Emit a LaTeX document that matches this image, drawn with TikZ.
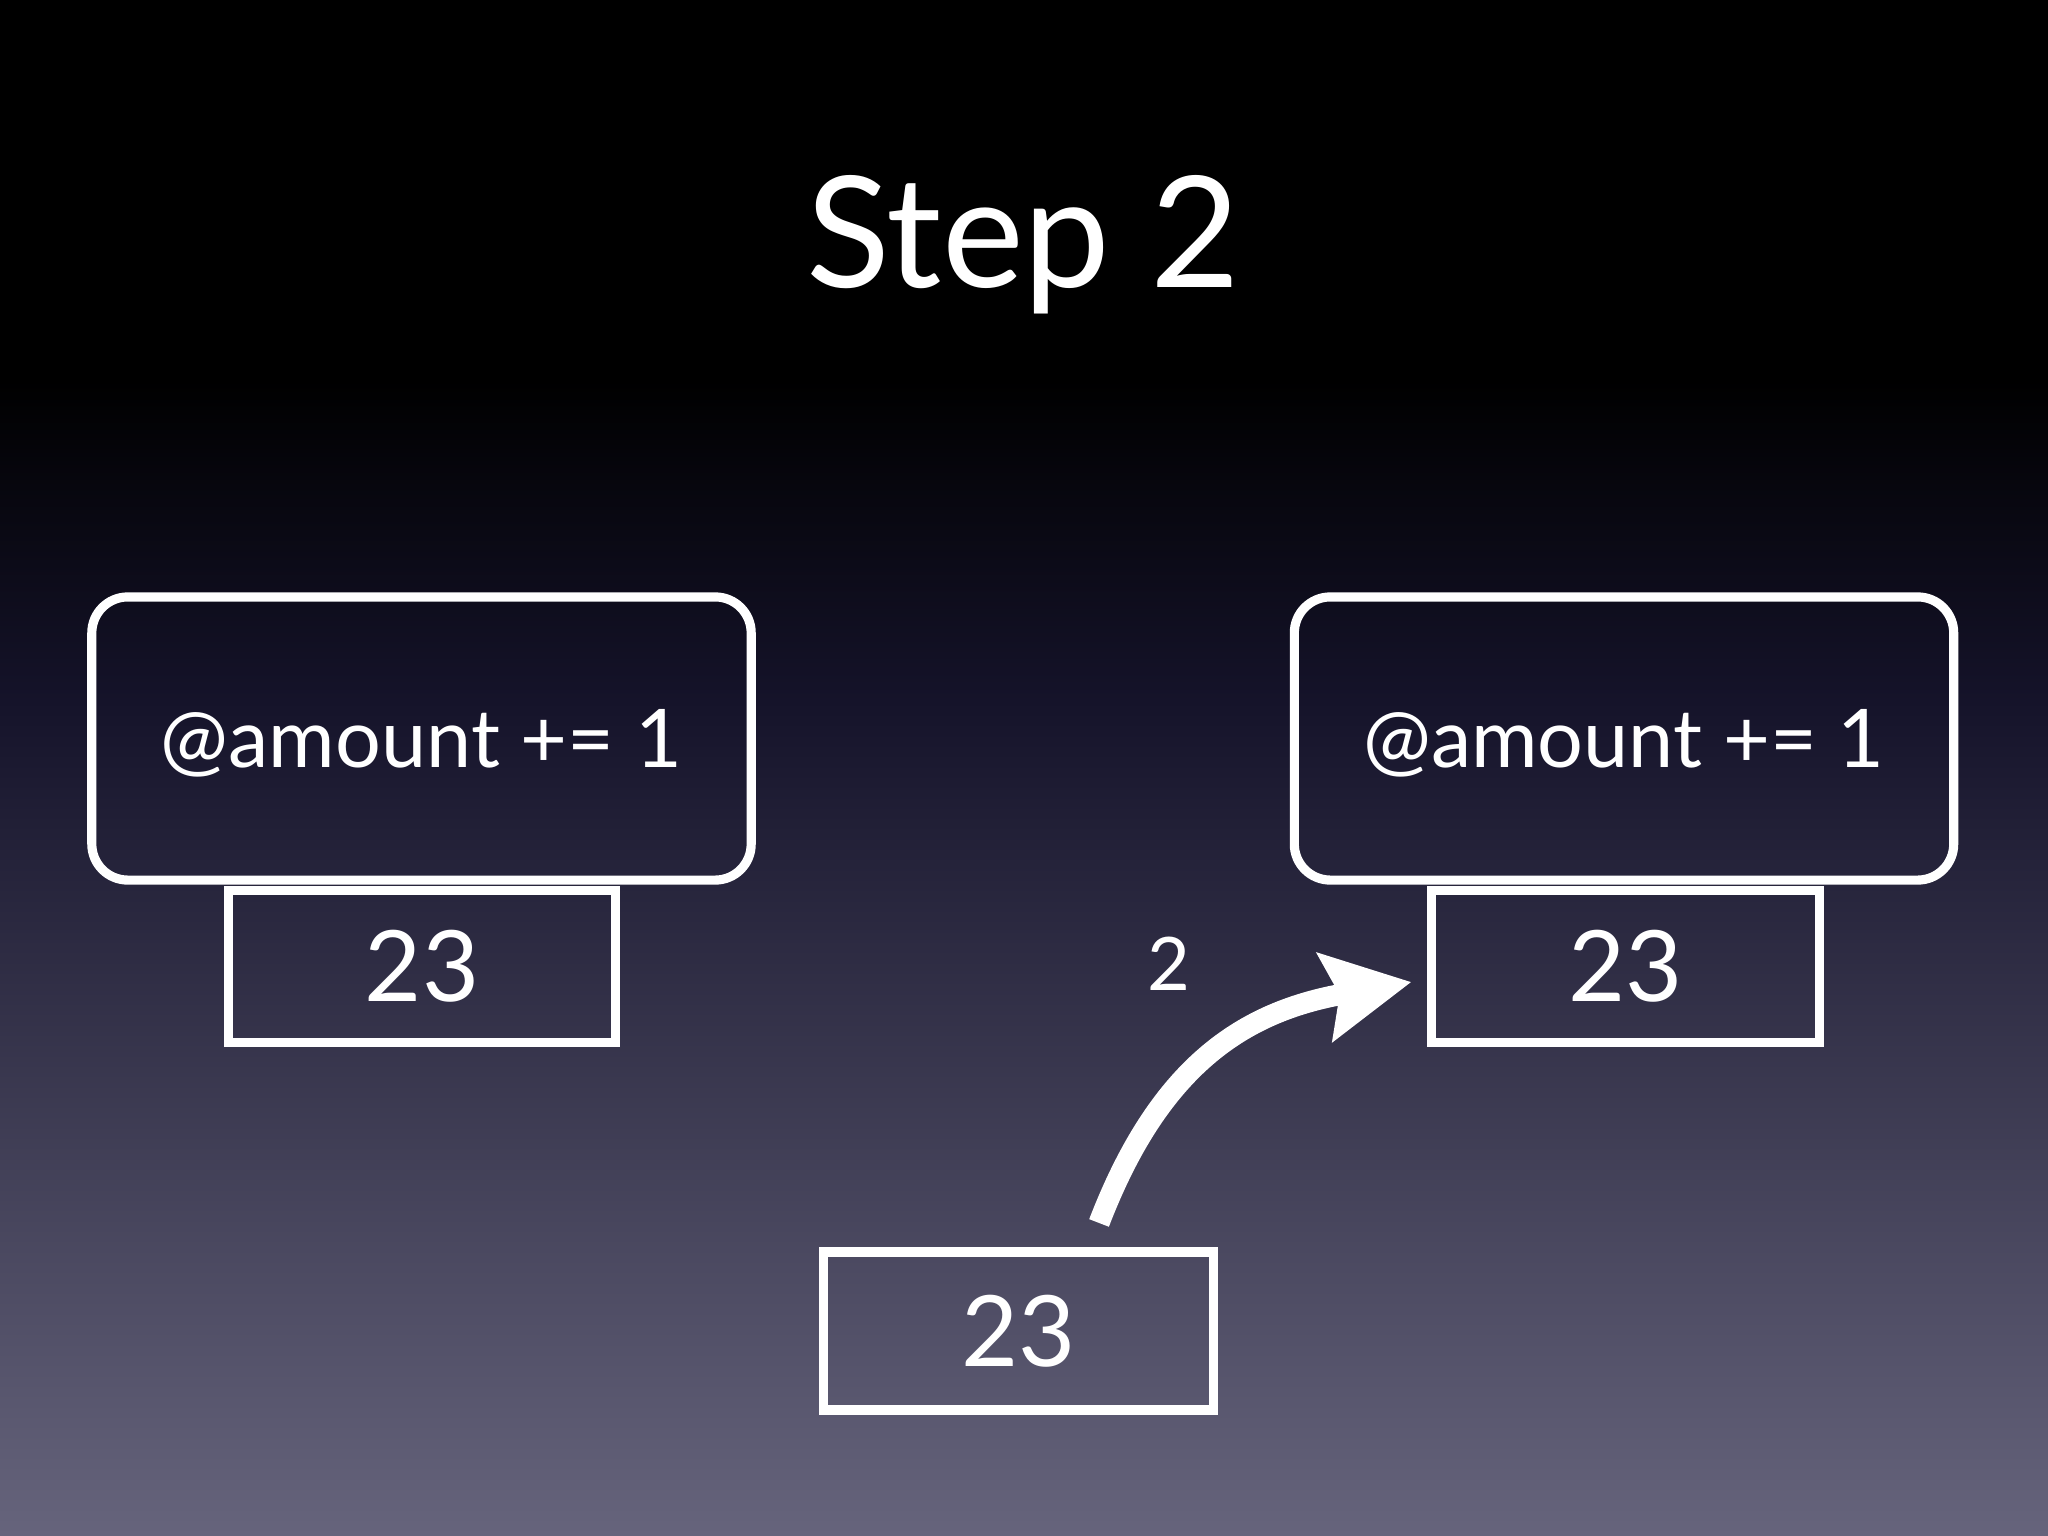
\documentclass[tikz,border=0pt]{standalone}
\usepackage{fontspec}
\setmainfont{Lato}
\usetikzlibrary{arrows.meta}
\definecolor{bgmid}{HTML}{15132A}
\definecolor{bgbot}{HTML}{66647C}
\begin{document}
\begin{tikzpicture}[x=0.01cm,y=-0.01cm,
  every node/.style={text=white, inner sep=0pt, outer sep=0pt},
  codebox/.style={draw=white, line width=2.6pt, rounded corners=0.36cm, minimum width=6.59cm, minimum height=2.83cm, font=\fontsize{23}{27}\selectfont, text depth=0pt},
  valbox/.style={draw=white, line width=2.6pt, minimum width=3.87cm, minimum height=1.52cm, font=\fontsize{28}{34}\selectfont},
  bigarrow/.style={draw=white, line width=6pt, -{Stealth[length=24.7pt,width=25pt,inset=4pt]}}
]
\useasboundingbox (0,0) rectangle (2048,1536);
\fill[black] (0,0) rectangle (2048,381);
\shade[top color=black, bottom color=bgmid] (0,380) rectangle (2048,701);
\shade[top color=bgmid, bottom color=bgbot] (0,700) rectangle (2048,1536);

\node[font=\fontsize{44}{52}\selectfont, anchor=base] (title) at (1023,287) {Step 2};
\node[codebox] (codeL) at (421.5,738.5) {@amount += 1};
\node[valbox] (valL) at (422,966.5) {23};
\node[codebox] (codeR) at (1624,738.5) {@amount += 1};
\node[valbox] (valR) at (1625.5,966.5) {23};
\node[valbox, minimum width=3.89cm, minimum height=1.58cm] (valB) at (1018.5,1331) {23};
\node[font=\fontsize{21}{25}\selectfont] (lbl) at (1169,964) {2};
\draw[bigarrow] ([xshift=0.805cm,yshift=0.29cm]valB.north) to[out=69,in=190,looseness=1.1] ([xshift=-0.205cm,yshift=-0.155cm]valR.west);
\end{tikzpicture}
\end{document}
